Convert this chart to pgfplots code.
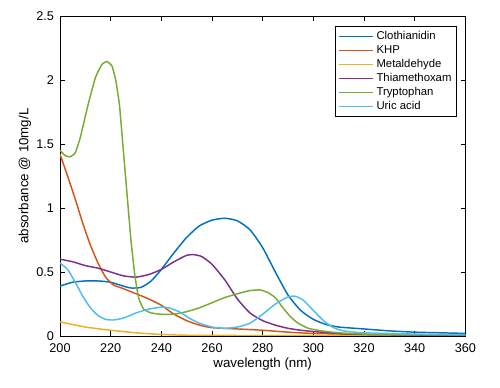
\documentclass[border=0pt]{standalone}
\usepackage{fontspec}
\setmainfont{Liberation Sans}
\usepackage{pgfplots}
\pgfplotsset{compat=1.18}
\definecolor{c1}{rgb}{0,0.447,0.741}
\definecolor{c2}{rgb}{0.85,0.325,0.098}
\definecolor{c3}{rgb}{0.929,0.694,0.125}
\definecolor{c4}{rgb}{0.494,0.184,0.556}
\definecolor{c5}{rgb}{0.466,0.674,0.188}
\definecolor{c6}{rgb}{0.301,0.745,0.933}
\begin{document}
\begin{tikzpicture}
\begin{axis}[
  scale only axis,
  width=304pt, height=240pt,
  xmin=200, xmax=360, ymin=0, ymax=2.5,
  xtick={200,220,...,360}, ytick={0,0.5,1,1.5,2,2.5},
  /pgf/number format/assume math mode=true,
  ticklabel style={font=\fontsize{9.5}{11}\selectfont},
  xticklabel style={yshift=-2pt},
  yticklabel style={xshift=-1pt},
  label style={font=\fontsize{10}{12}\selectfont},
  xlabel={wavelength (nm)}, ylabel={absorbance @ 10mg/L},
  xlabel style={yshift=3pt}, ylabel style={yshift=-3pt},
  axis line style={black, line width=0.6pt},
  tick style={black, line width=0.6pt},
  major tick length=3.5pt,
  scaled ticks=false,
  legend style={at={(0.98,0.969)}, anchor=north east, draw=black, line width=0.6pt,
    font=\fontsize{8.5}{10}\selectfont, row sep=-1.2pt, inner sep=2pt},
  legend cell align=left,
  legend image code/.code={\draw[#1, line width=0.8pt] (0pt,0pt) -- (26pt,0pt);},
  every axis plot/.append style={line width=1.1pt, smooth, tension=0.35},
]
\addplot[c1] coordinates {(200,0.39) (205,0.42) (210,0.43) (215,0.43) (220,0.42) (225,0.39) (228,0.375) (232,0.38) (236,0.43) (240,0.52) (245,0.65) (250,0.77) (255,0.86) (260,0.905) (265,0.92) (270,0.9) (275,0.83) (280,0.69) (285,0.5) (290,0.32) (295,0.2) (300,0.13) (305,0.09) (310,0.07) (320,0.055) (330,0.04) (340,0.03) (350,0.025) (360,0.02)};
\addlegendentry{Clothianidin}
\addplot[c2] coordinates {(200,1.42) (203,1.25) (206,1.07) (209,0.88) (212,0.71) (215,0.57) (218,0.46) (221,0.40) (225,0.37) (230,0.33) (235,0.29) (240,0.24) (245,0.17) (250,0.12) (255,0.085) (260,0.065) (270,0.055) (280,0.045) (290,0.03) (300,0.02) (320,0.012) (340,0.01) (360,0.008)};
\addlegendentry{KHP}
\addplot[c3] coordinates {(200,0.11) (210,0.07) (220,0.045) (230,0.025) (240,0.012) (250,0.006) (270,0.004) (300,0.003) (360,0.002)};
\addlegendentry{Metaldehyde}
\addplot[c4] coordinates {(200,0.60) (205,0.58) (210,0.55) (215,0.53) (220,0.50) (225,0.47) (230,0.46) (235,0.48) (240,0.52) (245,0.58) (250,0.63) (253,0.635) (256,0.62) (260,0.56) (265,0.44) (270,0.29) (275,0.18) (280,0.12) (285,0.085) (290,0.06) (295,0.045) (300,0.035) (310,0.02) (320,0.012) (340,0.008) (360,0.005)};
\addlegendentry{Thiamethoxam}
\addplot[c5, tension=0.25] coordinates {(200,1.45) (202,1.41) (204,1.40) (206,1.43) (208,1.55) (211,1.80) (214,2.02) (216.5,2.12) (218.5,2.145) (220.5,2.11) (222,2.0) (223.5,1.8) (225,1.45) (226.5,1.1) (228,0.75) (229.5,0.48) (231,0.3) (233,0.21) (236,0.18) (240,0.17) (245,0.17) (250,0.19) (255,0.22) (260,0.26) (265,0.30) (270,0.33) (275,0.355) (279,0.36) (282,0.34) (285,0.30) (288,0.22) (291,0.15) (294,0.10) (298,0.06) (303,0.04) (310,0.025) (320,0.015) (340,0.01) (360,0.008)};
\addlegendentry{Tryptophan}
\addplot[c6] coordinates {(200,0.57) (203,0.52) (206,0.42) (209,0.31) (212,0.22) (215,0.16) (218,0.13) (221,0.125) (225,0.14) (230,0.18) (235,0.21) (240,0.225) (243,0.22) (247,0.19) (251,0.14) (255,0.10) (260,0.07) (265,0.06) (270,0.07) (275,0.1) (280,0.17) (285,0.25) (290,0.305) (293,0.31) (296,0.28) (300,0.2) (304,0.12) (308,0.065) (312,0.04) (320,0.025) (340,0.015) (360,0.01)};
\addlegendentry{Uric acid}
\end{axis}
\path (current axis.south west) ++(-45pt,-39pt) coordinate (bbA);
\path (current axis.north east) ++(26pt,12pt) coordinate (bbB);
\path[use as bounding box] (bbA) rectangle (bbB);
\end{tikzpicture}
\end{document}
